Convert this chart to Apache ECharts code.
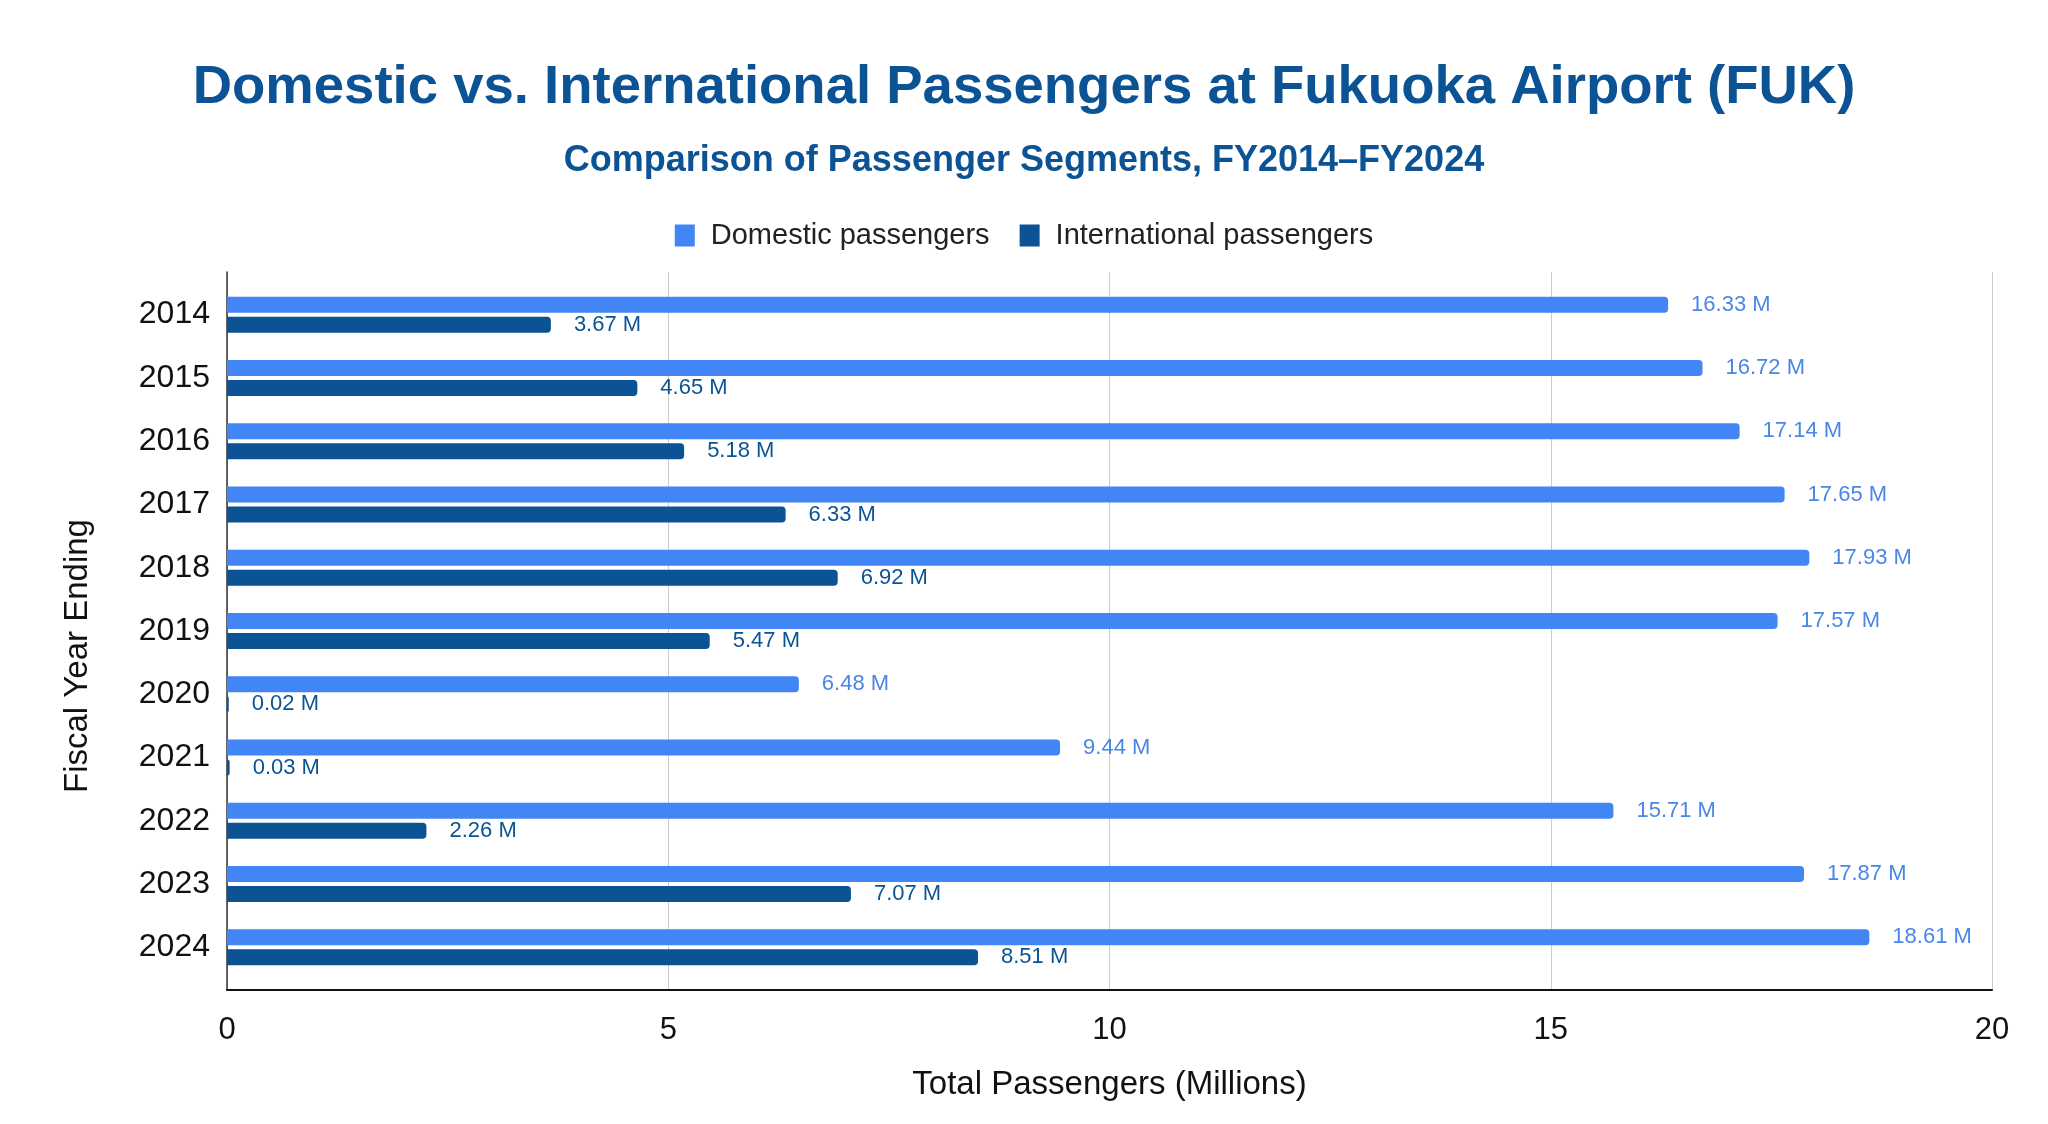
<!DOCTYPE html>
<html>
<head>
<meta charset="utf-8">
<title>Fukuoka Airport passengers</title>
<script src="https://cdn.jsdelivr.net/npm/echarts@6/dist/echarts.min.js"></script>
<style>
  html, body { margin: 0; padding: 0; background: #fff; }
  #chart { width: 2048px; height: 1124px; }
</style>
</head>
<body>
<div id="chart"></div>
<script>
const years = ['2014', '2015', '2016', '2017', '2018', '2019', '2020', '2021', '2022', '2023', '2024'];
const domestic = [16.33, 16.72, 17.14, 17.65, 17.93, 17.57, 6.48, 9.44, 15.71, 17.87, 18.61];
const international = [3.67, 4.65, 5.18, 6.33, 6.92, 5.47, 0.02, 0.03, 2.26, 7.07, 8.51];
const xTicks = { min: 0, max: 20, interval: 5 };

const FONT = '"Liberation Sans", Arial, sans-serif';
const DOM_COLOR = '#4285f4';
const INT_COLOR = '#0b5394';

const chart = echarts.init(document.getElementById('chart'));

const option = {
  backgroundColor: '#ffffff',
  textStyle: { fontFamily: FONT },
  title: [
    {
      text: 'Domestic vs. International Passengers at Fukuoka Airport (FUK)',
      left: 'center',
      top: 55,
      textStyle: { fontFamily: FONT, fontSize: 54.5, fontWeight: 'bold', color: '#0b5394' }
    },
    {
      text: 'Comparison of Passenger Segments, FY2014–FY2024',
      left: 'center',
      top: 138,
      textStyle: { fontFamily: FONT, fontSize: 36, fontWeight: 'bold', color: '#0b5394' }
    }
  ],
  legend: {
    top: 216,
    left: 'center',
    icon: 'rect',
    itemWidth: 20,
    itemHeight: 22,
    itemGap: 30,
    textStyle: { fontFamily: FONT, fontSize: 29, color: '#222', padding: [0, 0, 0, 11] },
    data: ['Domestic passengers', 'International passengers']
  },
  // grid 0 holds the frame (axis lines, gridlines, x labels); grid 1 holds the bars
  grid: [
    { left: 227, right: 56, top: 272, bottom: 134, containLabel: false },
    { left: 227, right: 56, top: 283, bottom: 145, containLabel: false }
  ],
  xAxis: [
    {
      type: 'value',
      gridIndex: 0,
      min: xTicks.min,
      max: xTicks.max,
      interval: xTicks.interval,
      name: 'Total Passengers (Millions)',
      nameLocation: 'middle',
      nameGap: 78,
      nameTextStyle: { fontFamily: FONT, fontSize: 33, color: '#111' },
      axisLine: { show: true, lineStyle: { color: '#111', width: 2 } },
      axisTick: { show: false },
      axisLabel: { fontFamily: FONT, fontSize: 31, color: '#111', margin: 25 },
      splitLine: { show: true, lineStyle: { color: '#cccccc', width: 1 } }
    },
    {
      type: 'value',
      gridIndex: 1,
      min: xTicks.min,
      max: xTicks.max,
      show: false
    }
  ],
  yAxis: [
    {
      type: 'value',
      gridIndex: 0,
      min: 0,
      max: 1,
      axisLine: { show: true, lineStyle: { color: '#333', width: 1.5 } },
      axisTick: { show: false },
      axisLabel: { show: false },
      splitLine: { show: false }
    },
    {
      type: 'category',
      gridIndex: 1,
      inverse: true,
      data: years,
      name: 'Fiscal Year Ending',
      nameLocation: 'middle',
      nameGap: 133,
      nameTextStyle: { fontFamily: FONT, fontSize: 33, color: '#111', padding: [0, 50, 0, 0] },
      axisLine: { show: false },
      axisTick: { show: false },
      axisLabel: { fontFamily: FONT, fontSize: 32, color: '#111', margin: 17 }
    }
  ],
  series: [
    {
      name: 'Domestic passengers',
      type: 'bar',
      xAxisIndex: 1,
      yAxisIndex: 1,
      data: domestic,
      barWidth: 16,
      barGap: '25%',
      itemStyle: { color: DOM_COLOR, borderRadius: [0, 4, 4, 0] },
      label: {
        show: true,
        position: 'right',
        distance: 23,
        fontFamily: FONT,
        fontSize: 22,
        color: '#4a86e8',
        formatter: p => p.value.toFixed(2) + ' M'
      }
    },
    {
      name: 'International passengers',
      type: 'bar',
      xAxisIndex: 1,
      yAxisIndex: 1,
      data: international,
      barWidth: 16,
      barGap: '25%',
      itemStyle: { color: INT_COLOR, borderRadius: [0, 4, 4, 0] },
      label: {
        show: true,
        position: 'right',
        distance: 23,
        fontFamily: FONT,
        fontSize: 22,
        color: '#0b5394',
        formatter: p => p.value.toFixed(2) + ' M'
      }
    }
  ]
};

chart.setOption(option);
</script>
</body>
</html>
